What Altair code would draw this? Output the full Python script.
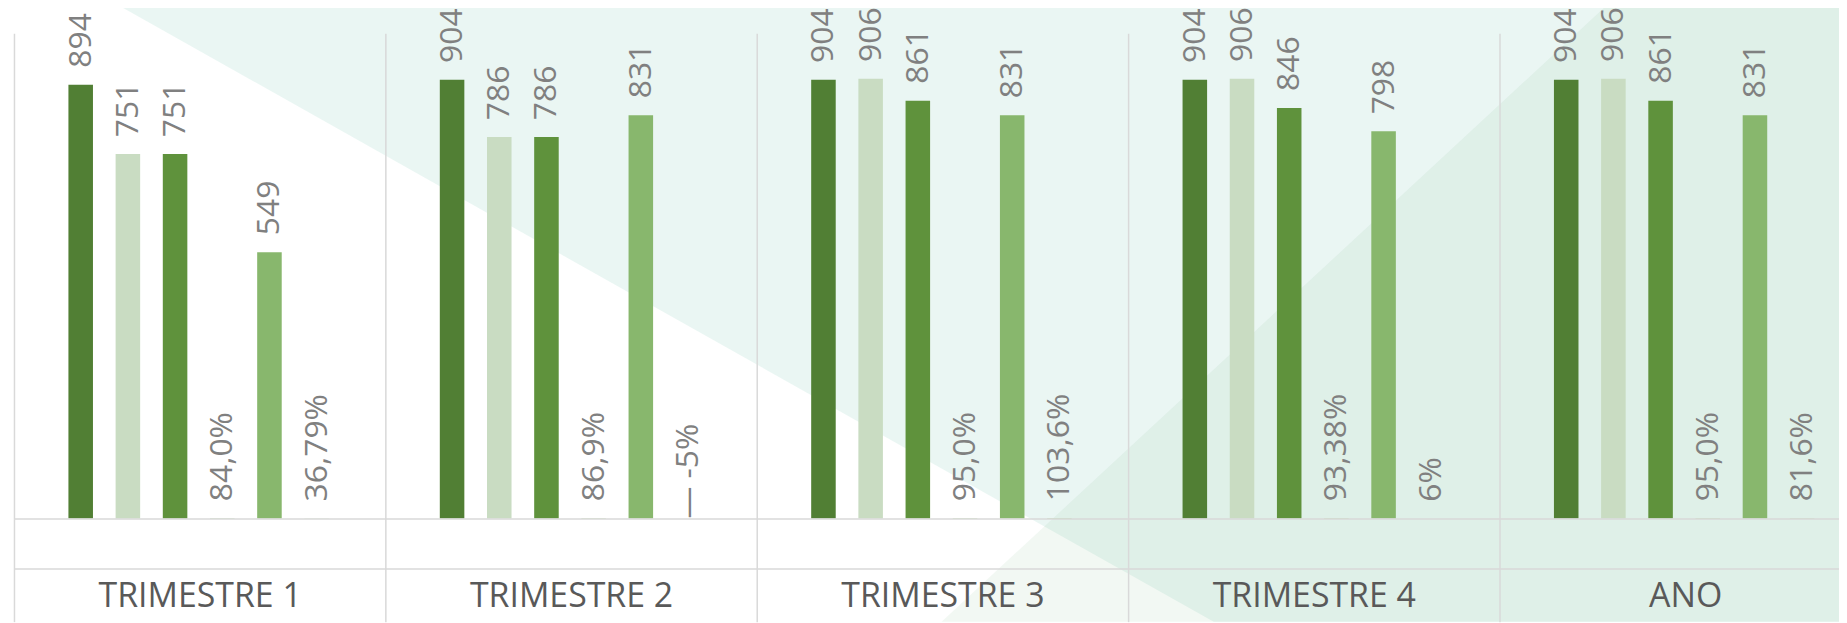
import altair as alt
import pandas as pd

# ---------------- data ----------------
grupos = ["TRIMESTRE 1", "TRIMESTRE 2", "TRIMESTRE 3", "TRIMESTRE 4", "ANO"]
series = ["S1", "S2", "S3", "S4", "S5", "S6"]

serie1 = [894, 904, 904, 904, 904]
serie2 = [751, 786, 906, 906, 906]
serie3 = [751, 786, 861, 846, 861]
serie4_pct = [84.0, 86.9, 95.0, 93.38, 95.0]
serie4_txt = ["84,0%", "86,9%", "95,0%", "93,38%", "95,0%"]
serie5 = [549, 831, 831, 798, 831]
serie6_pct = [36.79, -5, 103.6, 6, 81.6]
serie6_txt = ["36,79%", "-5%", "103,6%", "6%", "81,6%"]

cores = ["#517F34", "#C9DCC2", "#5F923C", "#A9D18E", "#88B76D", "#A9D18E"]

rows = []
for i, g in enumerate(grupos):
    rows.append({"grupo": g, "serie": "S1", "valor": serie1[i], "rotulo": str(serie1[i])})
    rows.append({"grupo": g, "serie": "S2", "valor": serie2[i], "rotulo": str(serie2[i])})
    rows.append({"grupo": g, "serie": "S3", "valor": serie3[i], "rotulo": str(serie3[i])})
    rows.append({"grupo": g, "serie": "S4", "valor": serie4_pct[i] / 100, "rotulo": serie4_txt[i]})
    rows.append({"grupo": g, "serie": "S5", "valor": serie5[i], "rotulo": str(serie5[i])})
    rows.append({"grupo": g, "serie": "S6", "valor": serie6_pct[i] / 100, "rotulo": serie6_txt[i]})
df = pd.DataFrame(rows)

# ---------------- decoration (background diagonal panels, page fractions) ----------------
W, H = 1833, 487.5
bg_a = pd.DataFrame({"x": [0.0606, 0.66, 1.0], "y": [0.0, 1.0, 1.0], "y2": [0.0, 0.0, 0.0]})
bg_b = pd.DataFrame({"x": [0.512, 0.876, 1.0], "y": [1.0, 0.0, 0.0], "y2": [1.0, 1.0, 1.0]})

bg_x = alt.Scale(domain=[0, 1], range=[-14, 1833], nice=False, zero=False)
bg_y = alt.Scale(domain=[0, 1], range=[-32, 591], nice=False, zero=False)


def bg_layer(d, color):
    return alt.Chart(d).mark_area(color=color, opacity=0.1, interpolate="linear").encode(
        x=alt.X("x:Q", scale=bg_x, axis=None),
        y=alt.Y("y:Q", scale=bg_y, axis=None),
        y2="y2:Q",
    )


fundo = alt.layer(bg_layer(bg_a, "#2EAA8A"), bg_layer(bg_b, "#7CB685"))

# ---------------- main chart ----------------
x_enc = alt.X(
    "grupo:N",
    sort=grupos,
    title=None,
    scale=alt.Scale(range=[0, 1865], paddingInner=0, paddingOuter=0),
    axis=alt.Axis(
        labelAngle=0,
        labelFont="Open Sans",
        labelFontSize=34,
        labelColor="#595959",
        labelBaseline="middle",
        labelPadding=-25,
        labelLimit=500,
        domainColor="#D9D9D9",
        domainWidth=1.5,
        grid=True,
        gridColor="#D9D9D9",
        gridWidth=1.5,
        ticks=True,
        tickBand="extent",
        tickSize=103.5,
        tickColor="#D9D9D9",
        tickWidth=1.5,
        zindex=1,
    ),
)
xo_scale = alt.Scale(range=[7.3, 363.7], paddingInner=0.48, paddingOuter=1)
xo_enc = alt.XOffset("serie:N", sort=series, scale=xo_scale)
y_enc = alt.Y("valor:Q", scale=alt.Scale(domain=[0, 1000], nice=False), axis=None)

base = alt.Chart(df)

barras = base.mark_bar().encode(
    x=x_enc,
    xOffset=xo_enc,
    y=y_enc,
    color=alt.Color("serie:N", sort=series, scale=alt.Scale(domain=series, range=cores), legend=None),
)

txt_style = dict(angle=270, align="left", baseline="middle", font="Open Sans", fontSize=32, color="#808080")

rot_pos = base.transform_filter("datum.valor >= 0").mark_text(dx=17, **txt_style).encode(
    x=alt.X("grupo:N", sort=grupos), xOffset=alt.XOffset("serie:N", sort=series), y="valor:Q", text="rotulo:N"
)
rot_neg = (
    base.transform_filter("datum.valor < 0")
    .transform_calculate(rot2="'\u2014 ' + datum.rotulo")
    .mark_text(dx=0, **txt_style)
    .encode(x=alt.X("grupo:N", sort=grupos), xOffset=alt.XOffset("serie:N", sort=series), y=alt.datum(0), text="rot2:N")
)

linha2 = alt.Chart(pd.DataFrame({"k": [0]})).mark_rule(color="#D9D9D9", strokeWidth=1.5).encode(
    x=alt.value(0), x2=alt.value(W), y=alt.value(H + 50.5)
)

principal = alt.layer(barras, rot_pos, rot_neg, linha2)

chart = (
    alt.layer(fundo, principal)
    .resolve_scale(x="independent", y="independent")
    .properties(
        width=W,
        height=H,
        autosize=alt.AutoSizeParams(type="none"),
        padding={"left": 6, "top": 24, "right": 0, "bottom": 103.5},
        background="white",
    )
    .configure_view(stroke=None)
)

chart.save("out.html", embed_options={"renderer": "svg", "actions": False})
